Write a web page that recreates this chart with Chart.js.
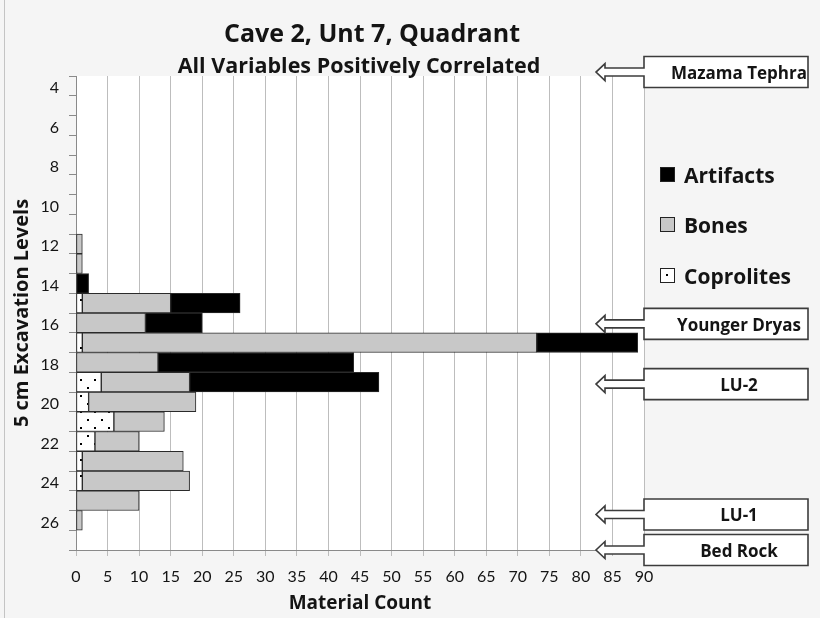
<!DOCTYPE html>
<html>
<head>
<meta charset="utf-8">
<script src="https://cdn.jsdelivr.net/npm/chart.js@4"></script>
<style>
    html, body { margin: 0; padding: 0; background: #f5f5f5; }
    #wrap { width: 820px; height: 618px; }
</style>
</head>
<body>
<div id="wrap"><canvas id="chart1" width="820" height="618"></canvas></div>
<script>
// excavation levels (5 cm), top to bottom
const levels = [4, 5, 6, 7, 8, 9, 10, 11, 12, 13, 14, 15, 16, 17, 18, 19, 20, 21, 22, 23, 24, 25, 26, 27];
const coprolites = [0, 0, 0, 0, 0, 0, 0, 0, 0, 0, 0, 1, 0, 1, 0, 4, 2, 6, 3, 1, 1, 0, 0, 0];
const bones =      [0, 0, 0, 0, 0, 0, 0, 0, 1, 1, 0, 14, 11, 72, 13, 14, 17, 8, 7, 16, 17, 10, 1, 0];
const artifacts =  [0, 0, 0, 0, 0, 0, 0, 0, 0, 0, 2, 11, 9, 16, 31, 30, 0, 0, 0, 0, 0, 0, 0, 0];

// stratigraphic markers, placed by level
const markerLabels = ['Mazama Tephra', 'Younger Dryas', 'LU-2', 'LU-1', 'Bed Rock'];
const markerLevels = [3.3, 16.05, 19.1, 25.7, 27.5];

const FONT = 'Lato, "Open Sans", sans-serif';
const BOLD = '"Open Sans", Lato, sans-serif';
const TEXT = '#141414';

function dotPattern(ctx) {
    const c = document.createElement('canvas');
    c.width = 14;
    c.height = 16;
    const g = c.getContext('2d');
    g.fillStyle = '#ffffff';
    g.fillRect(0, 0, 14, 16);
    g.fillStyle = '#000000';
    g.fillRect(3, 3, 2, 2);
    g.fillRect(10, 11, 2, 2);
    return ctx.createPattern(c, 'repeat');
}

const decorations = {
    id: 'decorations',
    beforeDraw: function (chart) {
        const ctx = chart.ctx;
        const a = chart.chartArea;
        ctx.save();
        ctx.fillStyle = '#f5f5f5';
        ctx.fillRect(0, 0, chart.width, chart.height);
        ctx.fillStyle = '#ffffff';
        ctx.fillRect(a.left, a.top, a.right - a.left, a.bottom - a.top);
        // outer frame line on the left
        ctx.strokeStyle = '#c4c4c4';
        ctx.lineWidth = 1;
        ctx.beginPath();
        ctx.moveTo(4.5, 0);
        ctx.lineTo(4.5, chart.height);
        ctx.stroke();
        ctx.restore();
    },
    afterDraw: function (chart) {
        const ctx = chart.ctx;
        const a = chart.chartArea;
        const yScale = chart.scales.y;
        ctx.save();

        // titles
        ctx.fillStyle = TEXT;
        ctx.textAlign = 'center';
        ctx.textBaseline = 'middle';
        ctx.font = 'bold 25px ' + BOLD;
        ctx.fillText('Cave 2, Unt 7, Quadrant', 372, 35);
        ctx.font = 'bold 21.5px ' + BOLD;
        ctx.fillText('All Variables Positively Correlated', 359, 67);

        // legend
        const items = [
            { label: 'Artifacts', fill: '#000000', y: 175 },
            { label: 'Bones', fill: '#c8c8c8', y: 225 },
            { label: 'Coprolites', fill: '#ffffff', y: 276 }
        ];
        ctx.textAlign = 'left';
        ctx.font = 'bold 21px ' + BOLD;
        items.forEach(function (it) {
            ctx.fillStyle = it.fill;
            ctx.fillRect(660, it.y - 8, 15, 15);
            ctx.strokeStyle = '#222';
            ctx.lineWidth = 1;
            ctx.strokeRect(660.5, it.y - 7.5, 14, 14);
            if (it.label === 'Coprolites') {
                ctx.fillStyle = '#000';
                ctx.fillRect(666, it.y - 2, 2, 2);
            }
            ctx.fillStyle = TEXT;
            ctx.fillText(it.label, 684, it.y + 2);
        });

        // callout arrows
        const boxL = a.right, boxR = 808, tip = 596, head = 605;
        ctx.font = 'bold 17px ' + BOLD;
        ctx.textAlign = 'center';
        markerLabels.forEach(function (label, i) {
            const yc = yScale.getPixelForValue(markerLevels[i] - levels[0]);
            const yt = yc - 15.5, yb = yc + 15.5;
            ctx.beginPath();
            ctx.moveTo(boxL, yt);
            ctx.lineTo(boxR, yt);
            ctx.lineTo(boxR, yb);
            ctx.lineTo(boxL, yb);
            ctx.lineTo(boxL, yc + 4);
            ctx.lineTo(head, yc + 4);
            ctx.lineTo(head, yc + 8.5);
            ctx.lineTo(tip, yc);
            ctx.lineTo(head, yc - 8.5);
            ctx.lineTo(head, yc - 4);
            ctx.lineTo(boxL, yc - 4);
            ctx.closePath();
            ctx.fillStyle = '#ffffff';
            ctx.fill();
            ctx.strokeStyle = '#3c3c3c';
            ctx.lineWidth = 1.6;
            ctx.stroke();
            ctx.save();
            ctx.beginPath();
            ctx.rect(boxL, yt, boxR - boxL, yb - yt);
            ctx.clip();
            ctx.fillStyle = TEXT;
            ctx.fillText(label, 739, yc + 2);
            ctx.restore();
        });
        ctx.restore();
    }
};

const Chart1 = {
    init: function () {
        const ctx = document.getElementById('chart1').getContext('2d');
        const dots = dotPattern(ctx);
        new Chart(ctx, {
            type: 'bar',
            data: {
                labels: levels.map(String),
                datasets: [
                    { label: 'Coprolites', data: coprolites, backgroundColor: dots },
                    { label: 'Bones', data: bones, backgroundColor: '#c8c8c8' },
                    { label: 'Artifacts', data: artifacts, backgroundColor: '#000000' }
                ]
            },
            options: {
                indexAxis: 'y',
                responsive: false,
                animation: false,
                datasets: {
                    bar: {
                        barPercentage: 1,
                        categoryPercentage: 1,
                        borderColor: '#2a2a2a',
                        borderWidth: 1,
                        borderSkipped: false
                    }
                },
                layout: { padding: { left: 4, top: 76, right: 176, bottom: 0 } },
                plugins: {
                    legend: { display: false },
                    title: { display: false },
                    tooltip: { enabled: false }
                },
                scales: {
                    x: {
                        type: 'linear',
                        stacked: true,
                        min: 0,
                        max: 90,
                        ticks: { stepSize: 5, color: TEXT, font: { family: FONT, size: 16 }, padding: 11 },
                        grid: { color: '#bdbdbd', tickLength: 6 },
                        border: { color: '#8a8a8a' },
                        title: {
                            display: true,
                            text: 'Material Count',
                            color: TEXT,
                            font: { family: BOLD, size: 19, weight: 'bold' },
                            padding: { top: 0, bottom: 3 }
                        },
                        afterFit: function (s) { s.height = 68; }
                    },
                    y: {
                        stacked: true,
                        offset: true,
                        ticks: {
                            autoSkip: false,
                            color: TEXT,
                            font: { family: FONT, size: 16 },
                            padding: 10,
                            labelOffset: 2,
                            callback: function (v, i) {
                                return levels[i] % 2 === 0 ? String(levels[i]) : '';
                            }
                        },
                        grid: { offset: true, drawOnChartArea: false, tickLength: 7, color: '#8a8a8a' },
                        border: { color: '#8a8a8a' },
                        title: {
                            display: true,
                            text: '5 cm Excavation Levels',
                            color: TEXT,
                            font: { family: BOLD, size: 20, weight: 'bold' },
                            padding: { top: 6, bottom: 0 }
                        },
                        afterFit: function (s) { s.width = 72; }
                    }
                }
            },
            plugins: [decorations]
        });
    }
};

Chart1.init();
</script>
</body>
</html>
